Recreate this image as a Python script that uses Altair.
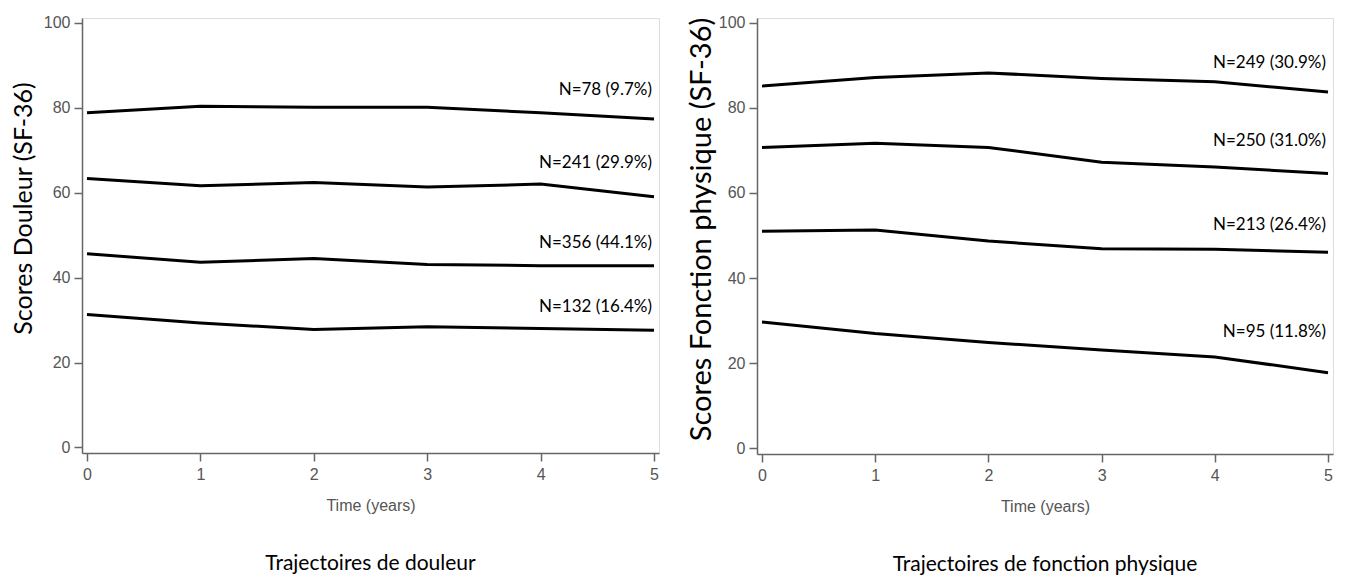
import altair as alt
import pandas as pd

years = [0, 1, 2, 3, 4, 5]
y_ticks = [0, 20, 40, 60, 80, 100]

# Pain trajectories (SF-36 bodily pain)
pain_labels = ["N=78 (9.7%)", "N=241 (29.9%)", "N=356 (44.1%)", "N=132 (16.4%)"]
pain_g1 = [78.8, 80.3, 80.1, 80.1, 78.8, 77.3]
pain_g2 = [63.3, 61.6, 62.4, 61.3, 62.0, 59.0]
pain_g3 = [45.6, 43.6, 44.5, 43.1, 42.8, 42.8]
pain_g4 = [31.3, 29.3, 27.8, 28.4, 28.0, 27.6]
pain_label_y = [84.2, 67.0, 48.2, 33.0]

# Physical function trajectories
phys_labels = ["N=249 (30.9%)", "N=250 (31.0%)", "N=213 (26.4%)", "N=95 (11.8%)"]
phys_g1 = [85.1, 87.1, 88.2, 86.9, 86.1, 83.7]
phys_g2 = [70.7, 71.7, 70.7, 67.2, 66.1, 64.6]
phys_g3 = [51.0, 51.3, 48.7, 46.9, 46.8, 46.1]
phys_g4 = [29.7, 27.0, 24.9, 23.1, 21.5, 17.8]
phys_label_y = [90.6, 72.2, 52.4, 27.4]

TICK_FONT = "Liberation Sans, Arial"
TITLE_FONT = "Lato"


def panel(series, labels, label_y, ytitle, bottom_title, width, height,
          ytitle_size, ytitle_pad, ytitle_y):
    rows = []
    for lab, vals in zip(labels, series):
        for t, v in zip(years, vals):
            rows.append({"group": lab, "year": t, "score": v})
    df = pd.DataFrame(rows)
    ldf = pd.DataFrame({"group": labels, "year": [5] * len(labels), "score": label_y})

    xenc = alt.X(
        "year:Q",
        scale=alt.Scale(domain=[-0.044, 5.044], nice=False, zero=False),
        axis=alt.Axis(
            values=years, title="Time (years)", format="d",
            labelFont=TICK_FONT, labelFontSize=16, labelColor="#555555",
            labelPadding=5, tickSize=8, tickColor="#666666", tickWidth=1.5,
            domainColor="#666666", domainWidth=1.5, grid=False,
            titleFont=TICK_FONT, titleFontSize=16, titleFontWeight="normal",
            titleColor="#555555", titlePadding=15,
        ),
    )
    yenc = alt.Y(
        "score:Q",
        scale=alt.Scale(domain=[-1.3, 101.1], nice=False, zero=False),
        axis=alt.Axis(
            values=y_ticks, title=ytitle, format="d",
            labelFont=TICK_FONT, labelFontSize=16, labelColor="#555555",
            labelPadding=4, tickSize=8, tickColor="#666666", tickWidth=1.5,
            domainColor="#666666", domainWidth=1.5, grid=False,
            titleFont=TITLE_FONT, titleFontSize=ytitle_size, titleFontWeight="normal",
            titleColor="#000000", titlePadding=ytitle_pad, titleY=ytitle_y,
        ),
    )
    lines = alt.Chart(df).mark_line(color="black", strokeWidth=3).encode(
        x=xenc, y=yenc, detail="group:N"
    )
    texts = alt.Chart(ldf).mark_text(
        align="right", baseline="middle", font=TITLE_FONT, fontSize=17,
        color="black", dx=-2,
    ).encode(x="year:Q", y="score:Q", text="group:N")
    return alt.layer(lines, texts).properties(
        width=width, height=height,
        title=alt.TitleParams(
            bottom_title, orient="bottom", anchor="middle", font=TITLE_FONT,
            fontSize=21, fontWeight="normal", color="#000000", offset=40,
        ),
    )


left = panel([pain_g1, pain_g2, pain_g3, pain_g4], pain_labels, pain_label_y,
             "Scores Douleur (SF-36)", "Trajectoires de douleur", 577, 435, 25, 7, 190)
right = panel([phys_g1, phys_g2, phys_g3, phys_g4], phys_labels, phys_label_y,
              "Scores Fonction physique (SF-36)", "Trajectoires de fonction physique",
              576, 436, 29, 2, 211)

chart = alt.hconcat(left, right, spacing=25).properties(
    padding={"left": 2, "top": 6, "right": 0, "bottom": 0}
).configure_view(stroke="#666666", strokeWidth=1.5).configure(background="white")

chart.save("out.html", embed_options={"renderer": "svg", "actions": False})
